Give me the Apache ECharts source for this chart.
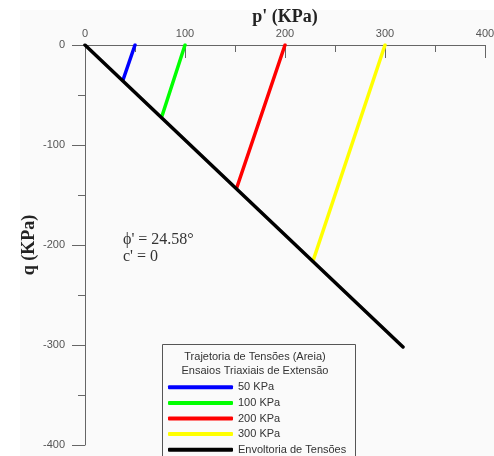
<!DOCTYPE html>
<html><head><meta charset="utf-8">
<script src="https://cdn.jsdelivr.net/npm/echarts@6/dist/echarts.min.js"></script>
<style>html,body{margin:0;padding:0;background:#fff}#c{width:494px;height:456px}</style>
</head><body><div id="c"></div>
<script>
// Data
const seriesNames = ['50 KPa', '100 KPa', '200 KPa', '300 KPa', 'Envoltoria de Tensões'];
const path50 = [[50, 0], [38, -35]];
const path100 = [[100, 0], [77, -71]];
const path200 = [[200, 0], [152, -142]];
const path300 = [[300, 0], [228, -216]];
const envelope = [[0, 0], [318, -302]];
const xTicks = [0, 100, 200, 300, 400];
const yTicks = [0, -100, -200, -300, -400];
const legendTitle = ['Trajetoria de Tensões (Areia)', 'Ensaios Triaxiais de Extensão'];
const annotation = ["ϕ' = 24.58°", "c' = 0"];

const colors = ['#0000ff', '#00ff00', '#ff0000', '#ffff00', '#000000'];
const allData = [path50, path100, path200, path300, envelope];

const chart = echarts.init(document.getElementById('c'), null, {renderer: 'canvas'});
const axisLabelStyle = {color: '#555', fontFamily: 'Liberation Sans, Arial', fontSize: 11};
chart.setOption({
  animation: false,
  grid: {left: 85, top: 45, width: 400, height: 400, containLabel: false, outerBoundsMode: 'none'},
  xAxis: {
    type: 'value', position: 'top', min: xTicks[0], max: xTicks[xTicks.length - 1], interval: 100,
    name: "p' (KPa)", nameLocation: 'middle', nameGap: 19, nameMoveOverlap: false,
    nameTextStyle: {fontFamily: 'Liberation Serif, Times New Roman', fontWeight: 'bold', fontSize: 18, color: '#222'},
    axisLine: {show: true, lineStyle: {color: '#666', width: 1}},
    axisTick: {show: true, inside: true, length: 13, lineStyle: {color: '#666'}},
    minorTick: {show: true, splitNumber: 2, length: 7, lineStyle: {color: '#666'}},
    axisLabel: Object.assign({margin: 6}, axisLabelStyle),
    splitLine: {show: false}
  },
  yAxis: {
    type: 'value', min: yTicks[yTicks.length - 1], max: yTicks[0], interval: 100,
    name: 'q (KPa)', nameLocation: 'middle', nameGap: 47, nameRotate: 90, nameMoveOverlap: false,
    nameTextStyle: {fontFamily: 'Liberation Serif, Times New Roman', fontWeight: 'bold', fontSize: 18, color: '#222'},
    axisLine: {show: true, onZero: false, lineStyle: {color: '#666', width: 1}},
    axisTick: {show: true, inside: false, length: 13, lineStyle: {color: '#666'}},
    minorTick: {show: true, splitNumber: 2, length: 7, lineStyle: {color: '#666'}},
    axisLabel: Object.assign({margin: 20}, axisLabelStyle),
    splitLine: {show: false}
  },
  legend: {
    orient: 'vertical', left: 168, top: 379.5, height: 90, padding: 0, itemGap: 0,
    itemWidth: 65, itemHeight: 4, icon: 'roundRect',
    textStyle: {color: '#333', fontFamily: 'Liberation Sans, Arial', fontSize: 11, lineHeight: 15.6},
    data: seriesNames
  },
  graphic: [
    {type: 'rect', z: -100, shape: {x: 20, y: 10, width: 474, height: 446}, style: {fill: '#fafafa'}, silent: true},
    {type: 'rect', z: -50, shape: {x: 162.5, y: 344.5, width: 193, height: 130}, style: {fill: '#fafafa', stroke: '#555', lineWidth: 1}, silent: true},
    {type: 'text', style: {text: legendTitle.join('\n'), x: 255, y: 350, textAlign: 'center', fill: '#333', font: '11px "Liberation Sans", Arial', lineHeight: 14}},
    {type: 'text', style: {text: annotation.join('\n'), x: 123, y: 231, fill: '#333', font: '16px "Liberation Serif", "Times New Roman"', lineHeight: 17}}
  ],
  series: allData.map((d, i) => ({
    name: seriesNames[i], type: 'line', data: d, showSymbol: false, symbol: 'none',
    lineStyle: {color: colors[i], width: 3.5, cap: 'round'}, itemStyle: {color: colors[i]}, z: i === 4 ? 3 : 2
  }))
});
</script></body></html>
